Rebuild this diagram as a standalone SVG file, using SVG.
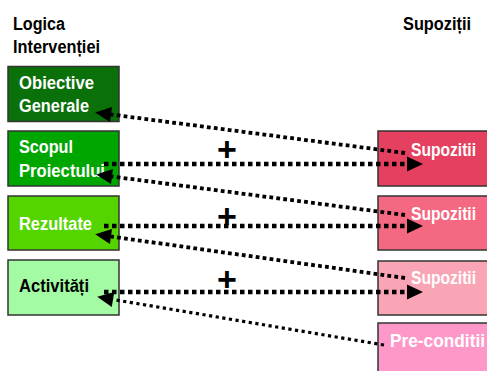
<svg xmlns="http://www.w3.org/2000/svg" width="487" height="371" viewBox="0 0 487 371">
<defs>
<style>
.hdr{font-family:"Liberation Sans",Arial,sans-serif;font-weight:bold;font-size:18px;fill:#000}
.lbl{font-family:"Liberation Sans",Arial,sans-serif;font-weight:bold;font-size:19px;fill:#fff}
.dark{fill:#000}
.box{stroke:#333;stroke-width:1.5}
.plus{font-family:"Liberation Sans",Arial,sans-serif;font-weight:bold;font-size:34px;fill:#000}
.thick{fill:none;stroke:#000;stroke-width:4.5;stroke-dasharray:4.5 3.5}
.thin{fill:none;stroke:#000;stroke-width:3.8;stroke-dasharray:3.8 3.2}
.thinner{fill:none;stroke:#000;stroke-width:3.2;stroke-dasharray:3.2 3.5}
</style>
<marker id="ah" markerUnits="userSpaceOnUse" markerWidth="18" markerHeight="16" refX="0" refY="8" orient="auto" overflow="visible">
<path d="M0,0.5 L16,8 L0,15.5 Z" fill="#000"/>
</marker>
</defs>
<rect width="487" height="371" fill="#fff"/>
<g id="headers">
<text class="hdr" x="13" y="30" textLength="52" lengthAdjust="spacingAndGlyphs">Logica</text>
<text class="hdr" x="13" y="53" textLength="87" lengthAdjust="spacingAndGlyphs">Intervenției</text>
<text class="hdr" x="403" y="30" textLength="68" lengthAdjust="spacingAndGlyphs">Supoziții</text>
</g>
<g id="obiective">
<rect class="box" x="8" y="66.5" width="111" height="55" fill="#0a700a"/>
<text class="lbl" x="19" y="89" textLength="75" lengthAdjust="spacingAndGlyphs">Obiective</text>
<text class="lbl" x="19" y="112" textLength="70" lengthAdjust="spacingAndGlyphs">Generale</text>
</g>
<g id="scopul">
<rect class="box" x="8" y="131" width="111" height="55" fill="#00a600"/>
<text class="lbl" x="19" y="153" textLength="54" lengthAdjust="spacingAndGlyphs">Scopul</text>
<text class="lbl" x="19" y="177" textLength="86" lengthAdjust="spacingAndGlyphs">Proiectului</text>
</g>
<g id="rezultate">
<rect class="box" x="8" y="196" width="111" height="54" fill="#55d500"/>
<text class="lbl" x="19" y="230" textLength="73" lengthAdjust="spacingAndGlyphs">Rezultate</text>
</g>
<g id="activitati">
<rect class="box" x="8" y="260" width="111" height="55" fill="#a3fca3"/>
<text class="lbl dark" x="19" y="292" textLength="70" lengthAdjust="spacingAndGlyphs">Activități</text>
</g>
<g id="supozitii1">
<rect class="box" x="378" y="131" width="120" height="55" fill="#e5405f"/>
<text class="lbl" x="411" y="156" textLength="65" lengthAdjust="spacingAndGlyphs">Supozitii</text>
</g>
<g id="supozitii2">
<rect class="box" x="378" y="196" width="120" height="54" fill="#f56882"/>
<text class="lbl" x="411" y="220" textLength="65" lengthAdjust="spacingAndGlyphs">Supozitii</text>
</g>
<g id="supozitii3">
<rect class="box" x="378" y="261" width="120" height="54" fill="#f9a5b5"/>
<text class="lbl" x="411" y="284" textLength="65" lengthAdjust="spacingAndGlyphs">Supozitii</text>
</g>
<g id="preconditii">
<rect class="box" x="378" y="323" width="120" height="60" fill="#fd98c8"/>
<text class="lbl" x="390" y="347" textLength="95" lengthAdjust="spacingAndGlyphs">Pre-conditii</text>
</g>
<g id="plus">
<text class="plus" x="227" y="161" text-anchor="middle">+</text>
<text class="plus" x="227" y="228" text-anchor="middle">+</text>
<text class="plus" x="227" y="291" text-anchor="middle">+</text>
</g>
<g id="connectors">
<path class="thin" d="M405,153 L111,114.5" marker-end="url(#ah)"/>
<path class="thick" d="M104,164 L407,164" marker-end="url(#ah)"/>
<path class="thin" d="M405,215 L112,176.5" marker-end="url(#ah)"/>
<path class="thick" d="M104,226 L407,226" marker-end="url(#ah)"/>
<path class="thin" d="M405,278 L111,236.5" marker-end="url(#ah)"/>
<path class="thick" d="M104,292 L407,292" marker-end="url(#ah)"/>
<path class="thinner" d="M384,345 L113,299.5" marker-end="url(#ah)"/>
</g>
</svg>
